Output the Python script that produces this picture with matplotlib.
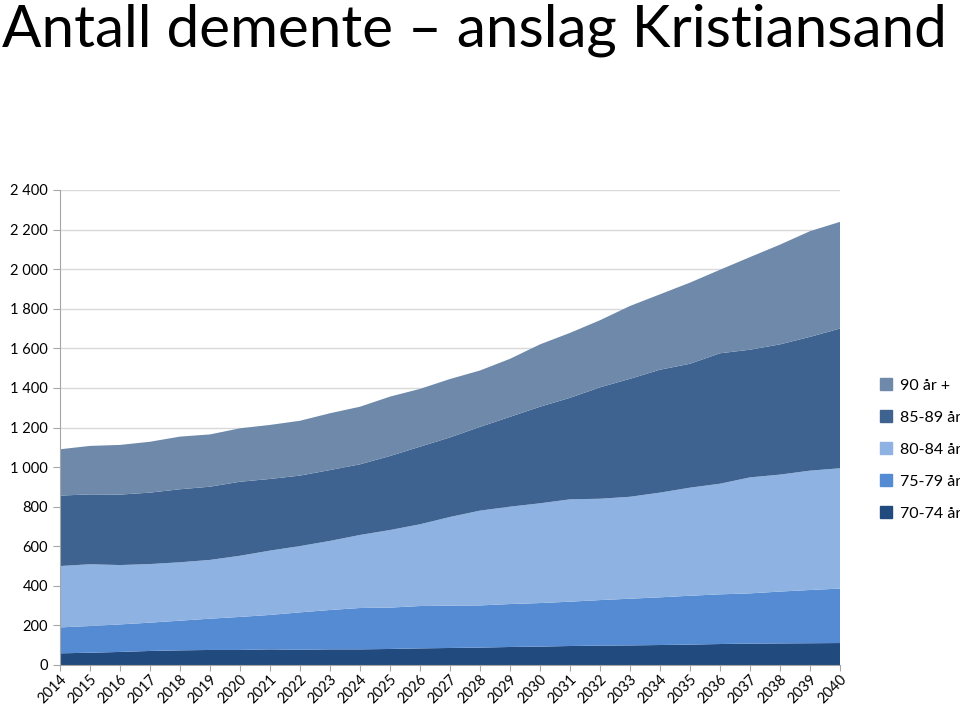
import matplotlib.pyplot as plt
from matplotlib.patches import Patch

# --------------------------------------------------------------
# data (number of people per age group)
# --------------------------------------------------------------
years = list(range(2014, 2041))
age_70_74 = [59, 62, 66, 71, 74, 76, 76, 79, 77, 79, 79, 81, 84, 86, 88, 91, 93, 96, 98, 99, 101, 103, 106, 108, 109, 110, 111]
age_75_79 = [131, 135, 139, 143, 150, 158, 167, 174, 189, 199, 209, 209, 214, 214, 213, 217, 220, 224, 230, 236, 241, 247, 251, 254, 262, 269, 275]
age_80_84 = [310, 312, 300, 296, 295, 297, 309, 325, 335, 349, 369, 392, 413, 448, 479, 492, 504, 517, 512, 515, 529, 546, 559, 586, 591, 603, 608]
age_85_89 = [356, 353, 356, 361, 369, 370, 374, 362, 356, 358, 357, 374, 392, 402, 423, 454, 488, 513, 563, 596, 621, 626, 659, 645, 658, 676, 706]
age_90 = [234, 245, 251, 257, 266, 264, 270, 273, 277, 287, 291, 300, 292, 295, 285, 293, 315, 328, 339, 368, 381, 410, 422, 468, 504, 534, 539]

labels = ["70-74 år", "75-79 år", "80-84 år", "85-89 år", "90 år +"]
colors = ["#214a7e", "#558bd3", "#8eb2e1", "#3e6390", "#6e89aa"]

plt.rcParams['font.family'] = ['Lato', 'DejaVu Sans']

fig = plt.figure(figsize=(9.6, 7.08), dpi=100)
ax = fig.add_axes([60/960, 1 - 665/708, 780/960, 475/708])

ax.stackplot(years, age_70_74, age_75_79, age_80_84, age_85_89, age_90,
             colors=colors, linewidth=0, zorder=2)

ax.set_xlim(2014, 2040)
ax.set_ylim(0, 2400)
ax.set_yticks(range(0, 2401, 200))
ax.set_yticklabels([f"{v:,}".replace(",", " ") for v in range(0, 2401, 200)], fontsize=10.5)
ax.set_xticks(years)
ax.set_xticklabels([str(y) for y in years], rotation=45, ha="right",
                   rotation_mode="anchor", fontsize=10.5)

ax.grid(axis="y", color="#d9d9d9", lw=1, zorder=0)
for s in ["top", "right"]:
    ax.spines[s].set_visible(False)
for s in ["left", "bottom"]:
    ax.spines[s].set_color("#a6a6a6")
ax.tick_params(axis="both", colors="#a6a6a6", labelcolor="black", length=5)
ax.tick_params(axis="x", length=4, pad=1)

fig.text(0.002, 0.995, "Antall demente \u2013 anslag Kristiansand", fontsize=42,
         ha="left", va="top")

handles = [Patch(color=c, label=l) for c, l in zip(colors, labels)][::-1]
fig.legend(handles=handles, loc="upper left", bbox_to_anchor=(874/960, 1 - 372/708),
           frameon=False, fontsize=11.5, handlelength=0.75, handleheight=0.75,
           handletextpad=0.5, labelspacing=1.1, borderaxespad=0)

fig.savefig("out.png", dpi=100)
